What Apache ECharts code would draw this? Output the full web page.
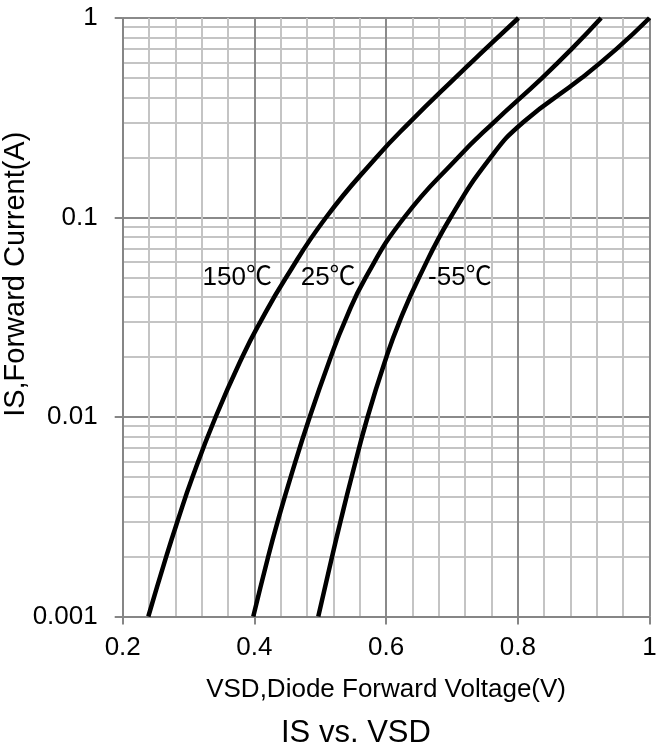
<!DOCTYPE html>
<html>
<head>
<meta charset="utf-8">
<script src="https://cdn.jsdelivr.net/npm/echarts@6/dist/echarts.min.js"></script>
<style>
    html, body { margin: 0; padding: 0; background: #fff; }
    #main { width: 656px; height: 749px; }
</style>
</head>
<body>
<div id="main"></div>
<script>
    // axis ticks
    var xTicks = [0.2, 0.4, 0.6, 0.8, 1];
    var yTicks = [0.001, 0.01, 0.1, 1];

    // current levels where the voltages were read (A)
    var isLevels = [0.001, 0.002, 0.003, 0.005, 0.01, 0.02, 0.03, 0.05, 0.1, 0.2, 0.3, 0.5, 0.7, 1];

    // forward voltage at each level (V)
    var vsd150 = [0.2389, 0.2662, 0.2832, 0.3060, 0.3411, 0.3816, 0.4091, 0.4481, 0.5087, 0.5851, 0.6358, 0.7045, 0.7510, 0.8010];
    var vsd25 = [0.3983, 0.4210, 0.4354, 0.4551, 0.4840, 0.5160, 0.5370, 0.5689, 0.6275, 0.7092, 0.7636, 0.8367, 0.8819, 0.9265];
    var vsdM55 = [0.4970, 0.5180, 0.5308, 0.5476, 0.5719, 0.6005, 0.6202, 0.6500, 0.6978, 0.7588, 0.8082, 0.8967, 0.9500, 1.0];

    // curve labels: [x, y, text]
    var curveLabels = [
        [0.374, 0.05, '150℃'],
        [0.512, 0.05, '25℃'],
        [0.712, 0.05, '-55℃']
    ];

    var FONT = '"Liberation Sans", Arial, "Noto Sans CJK SC", sans-serif';

    function pairs(xs, ys) {
        return xs.map(function (x, i) { return [x, ys[i]]; });
    }

    function curve(name, xs) {
        return {
            name: name,
            type: 'line',
            data: pairs(xs, isLevels),
            smooth: 0.5,
            showSymbol: false,
            symbol: 'none',
            z: 5,
            lineStyle: { color: '#000', width: 4.5 }
        };
    }

    var chart = echarts.init(document.getElementById('main'));
    var option = {
        animation: false,
        backgroundColor: '#fff',
        textStyle: { fontFamily: FONT },
        title: {
            text: 'IS vs. VSD',
            left: 281,
            top: 718,
            padding: 0,
            textStyle: { fontFamily: FONT, fontSize: 31, fontWeight: 'normal', color: '#000' }
        },
        grid: {
            left: 122.7, right: 6.5, top: 18, bottom: 132.5,
            containLabel: false,
            outerBoundsMode: 'none'
        },
        xAxis: {
            type: 'value',
            min: xTicks[0],
            max: xTicks[xTicks.length - 1],
            interval: 0.2,
            name: 'VSD,Diode Forward Voltage(V)',
            nameLocation: 'middle',
            nameGap: 60,
            nameMoveOverlap: false,
            nameTextStyle: { fontFamily: FONT, fontSize: 26, color: '#000' },
            axisLine: { lineStyle: { color: '#868686', width: 2 } },
            axisTick: { show: true, length: 8, lineStyle: { color: '#868686', width: 2 } },
            axisLabel: { fontFamily: FONT, fontSize: 26, color: '#000', margin: 18 },
            splitLine: { show: true, lineStyle: { color: '#8a8a8a', width: 2 } },
            minorTick: { show: false, splitNumber: 5 },
            minorSplitLine: { show: true, lineStyle: { color: '#c4c4c4', width: 2 } },
            z: 2
        },
        yAxis: {
            type: 'log',
            logBase: 10,
            min: yTicks[0],
            max: yTicks[yTicks.length - 1],
            name: 'IS,Forward Current(A)',
            nameLocation: 'middle',
            nameGap: 92,
            nameMoveOverlap: false,
            nameTextStyle: { fontFamily: FONT, fontSize: 29, color: '#000', padding: [0, 0, 0, 86] },
            axisLine: { show: true, lineStyle: { color: '#868686', width: 2 } },
            axisTick: { show: true, length: 8, lineStyle: { color: '#868686', width: 2 } },
            axisLabel: {
                fontFamily: FONT, fontSize: 26, color: '#000', margin: 25,
                formatter: function (v) { return String(v); }
            },
            splitLine: { show: true, lineStyle: { color: '#8a8a8a', width: 2 } },
            minorTick: { show: false, splitNumber: 9 },
            minorSplitLine: { show: true, lineStyle: { color: '#c4c4c4', width: 2 } },
            z: 2
        },
        series: [
            curve('150℃', vsd150),
            curve('25℃', vsd25),
            curve('-55℃', vsdM55),
            {
                type: 'scatter',
                data: curveLabels,
                symbolSize: 0,
                z: 6,
                itemStyle: { opacity: 1 },
                label: {
                    show: true,
                    position: 'inside',
                    formatter: function (p) { return p.value[2]; },
                    fontFamily: FONT,
                    fontSize: 26,
                    color: '#000',
                    opacity: 1
                }
            }
        ]
    };
    chart.setOption(option);
</script>
</body>
</html>
